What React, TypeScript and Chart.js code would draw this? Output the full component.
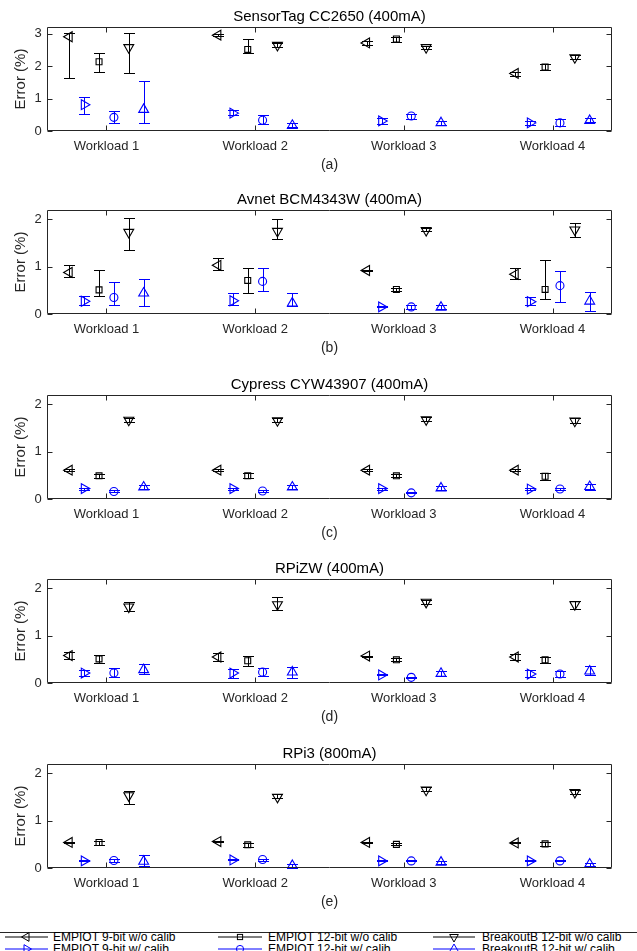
import React, { useEffect, useRef } from "react";
import { Chart, registerables } from "chart.js";

Chart.register(...registerables);

// ---------- data ----------
const workloadLabels = ["Workload 1", "Workload 2", "Workload 3", "Workload 4"];
const workloadPositions = [1, 2, 3, 4];

const seriesNames = [
  "EMPIOT 9-bit w/o calib",
  "EMPIOT 9-bit w/ calib",
  "EMPIOT 12-bit w/o calib",
  "EMPIOT 12-bit w/ calib",
  "BreakoutB 12-bit w/o calib",
  "BreakoutB 12-bit w/ calib",
];
const seriesOffsets = [-0.25, -0.15, -0.05, 0.05, 0.15, 0.25];

const panelTitles = [
  "SensorTag CC2650 (400mA)",
  "Avnet BCM4343W (400mA)",
  "Cypress CYW43907 (400mA)",
  "RPiZW (400mA)",
  "RPi3 (800mA)",
];
const panelLetters = ["(a)", "(b)", "(c)", "(d)", "(e)"];
const panelYMax = [3.2, 2.2, 2.2, 2.2, 2.2];
const panelYTicks = [[0, 1, 2, 3], [0, 1, 2], [0, 1, 2], [0, 1, 2], [0, 1, 2]];

// rows = series (in legend order), columns = workloads 1..4
const sensorTagMean = [
  [2.9, 2.95, 2.71, 1.77],
  [0.81, 0.55, 0.31, 0.25],
  [2.13, 2.51, 2.83, 1.97],
  [0.42, 0.33, 0.46, 0.25],
  [2.57, 2.64, 2.57, 2.26],
  [0.66, 0.17, 0.25, 0.32],
];
const sensorTagLow = [
  [1.63, 2.91, 2.66, 1.68],
  [0.52, 0.48, 0.22, 0.18],
  [1.82, 2.4, 2.74, 1.88],
  [0.25, 0.21, 0.36, 0.16],
  [1.77, 2.6, 2.53, 2.22],
  [0.25, 0.11, 0.18, 0.27],
];
const sensorTagHigh = [
  [3.03, 2.99, 2.77, 1.83],
  [1.06, 0.64, 0.4, 0.32],
  [2.4, 2.83, 2.9, 2.06],
  [0.61, 0.48, 0.52, 0.36],
  [3.01, 2.71, 2.62, 2.33],
  [1.54, 0.25, 0.31, 0.39],
];

const avnetMean = [
  [0.88, 1.03, 0.92, 0.84],
  [0.27, 0.28, 0.15, 0.26],
  [0.51, 0.71, 0.52, 0.52],
  [0.35, 0.69, 0.15, 0.6],
  [1.73, 1.75, 1.77, 1.78],
  [0.44, 0.23, 0.14, 0.27],
];
const avnetLow = [
  [0.79, 0.94, 0.9, 0.74],
  [0.18, 0.19, 0.14, 0.19],
  [0.38, 0.44, 0.48, 0.31],
  [0.2, 0.49, 0.11, 0.26],
  [1.35, 1.59, 1.75, 1.63],
  [0.16, 0.16, 0.11, 0.07],
];
const avnetHigh = [
  [1.03, 1.18, 0.94, 0.97],
  [0.38, 0.44, 0.16, 0.35],
  [0.93, 0.97, 0.55, 1.14],
  [0.68, 0.98, 0.2, 0.9],
  [2.04, 2.02, 1.81, 1.93],
  [0.73, 0.44, 0.18, 0.46],
];

const cypressMean = [
  [0.61, 0.61, 0.61, 0.61],
  [0.22, 0.22, 0.22, 0.21],
  [0.49, 0.49, 0.49, 0.48],
  [0.16, 0.17, 0.13, 0.21],
  [1.67, 1.66, 1.68, 1.65],
  [0.25, 0.25, 0.23, 0.26],
];
const cypressLow = [
  [0.59, 0.59, 0.59, 0.59],
  [0.2, 0.2, 0.2, 0.2],
  [0.45, 0.44, 0.46, 0.4],
  [0.14, 0.15, 0.12, 0.19],
  [1.62, 1.62, 1.64, 1.6],
  [0.21, 0.21, 0.19, 0.2],
];
const cypressHigh = [
  [0.63, 0.63, 0.63, 0.63],
  [0.24, 0.24, 0.24, 0.23],
  [0.53, 0.54, 0.52, 0.55],
  [0.18, 0.19, 0.14, 0.24],
  [1.71, 1.71, 1.73, 1.71],
  [0.29, 0.29, 0.27, 0.32],
];

const rpizwMean = [
  [0.58, 0.55, 0.57, 0.55],
  [0.21, 0.21, 0.17, 0.19],
  [0.51, 0.47, 0.49, 0.49],
  [0.21, 0.23, 0.12, 0.19],
  [1.61, 1.66, 1.71, 1.66],
  [0.28, 0.23, 0.2, 0.25],
];
const rpizwLow = [
  [0.51, 0.46, 0.56, 0.48],
  [0.14, 0.11, 0.16, 0.12],
  [0.42, 0.37, 0.46, 0.42],
  [0.12, 0.14, 0.11, 0.12],
  [1.53, 1.55, 1.68, 1.57],
  [0.19, 0.11, 0.15, 0.16],
];
const rpizwHigh = [
  [0.66, 0.64, 0.58, 0.62],
  [0.28, 0.3, 0.18, 0.27],
  [0.6, 0.57, 0.52, 0.56],
  [0.32, 0.32, 0.13, 0.26],
  [1.72, 1.81, 1.75, 1.73],
  [0.4, 0.34, 0.25, 0.35],
];

const rpi3Mean = [
  [0.54, 0.56, 0.54, 0.53],
  [0.15, 0.17, 0.15, 0.15],
  [0.54, 0.49, 0.5, 0.51],
  [0.16, 0.18, 0.15, 0.15],
  [1.53, 1.5, 1.65, 1.6],
  [0.14, 0.05, 0.12, 0.08],
];
const rpi3Low = [
  [0.53, 0.55, 0.53, 0.52],
  [0.14, 0.16, 0.14, 0.14],
  [0.49, 0.44, 0.48, 0.47],
  [0.12, 0.15, 0.14, 0.14],
  [1.36, 1.48, 1.63, 1.56],
  [0.04, 0.01, 0.09, 0.05],
];
const rpi3High = [
  [0.55, 0.57, 0.55, 0.54],
  [0.16, 0.18, 0.16, 0.16],
  [0.58, 0.53, 0.52, 0.54],
  [0.19, 0.2, 0.16, 0.16],
  [1.62, 1.56, 1.71, 1.65],
  [0.28, 0.09, 0.14, 0.11],
];

const panelMeans = [sensorTagMean, avnetMean, cypressMean, rpizwMean, rpi3Mean];
const panelLows = [sensorTagLow, avnetLow, cypressLow, rpizwLow, rpi3Low];
const panelHighs = [sensorTagHigh, avnetHigh, cypressHigh, rpizwHigh, rpi3High];

// ---------- styles ----------
const FONT = "'Liberation Sans', Arial, Helvetica, sans-serif";
const BLACK = "#000000";
const BLUE = "#0000ff";
const AXIS = "#262626";
const seriesColors = [BLACK, BLUE, BLACK, BLUE, BLACK, BLUE];
const seriesPointStyles = ["triangle", "triangle", "rect", "circle", "triangle", "triangle"];
const seriesRotations = [-90, 90, 0, 0, 180, 0];
const seriesRadius = [5.7, 5.7, 4.2, 4, 5.7, 5.7];

const W = 637;
const PLOT_RIGHT = 612;
const PLOT_LEFT = 47;
const PLOT_H = 104;
const TOP_SPACE = 26;
const BOTTOM_SPACE = 46;
const panelPlotTops = [27, 210, 395, 579, 764];

const errorBarPlugin = {
  id: "errorBars",
  afterDatasetsDraw(chart: any) {
    const ctx = chart.ctx;
    const xs = chart.scales.x;
    const ys = chart.scales.y;
    chart.data.datasets.forEach((ds: any) => {
      ctx.save();
      ctx.strokeStyle = ds.pointBorderColor;
      ctx.lineWidth = 1;
      ds.data.forEach((p: any, k: number) => {
        const xi = Math.round(xs.getPixelForValue(p.x));
        const x = xi + 0.5;
        const yl = Math.round(ys.getPixelForValue(ds.errLow[k])) + 0.5;
        const yh = Math.round(ys.getPixelForValue(ds.errHigh[k])) + 0.5;
        ctx.beginPath();
        ctx.moveTo(x, yl);
        ctx.lineTo(x, yh);
        ctx.moveTo(xi - 5, yl);
        ctx.lineTo(xi + 6, yl);
        ctx.moveTo(xi - 5, yh);
        ctx.lineTo(xi + 6, yh);
        ctx.stroke();
      });
      ctx.restore();
    });
  },
};

const framePlugin = {
  id: "matlabFrame",
  afterDraw(chart: any) {
    const ctx = chart.ctx;
    const a = chart.chartArea;
    const l = Math.round(a.left) + 0.5;
    const r = Math.round(a.right) - 0.5;
    const t = Math.round(a.top) + 0.5;
    const b = Math.round(a.bottom) - 0.5;
    ctx.save();
    ctx.strokeStyle = AXIS;
    ctx.lineWidth = 1;
    ctx.beginPath();
    ctx.rect(l, t, r - l, b - t);
    const tl = 5;
    chart.scales.y.ticks.forEach((tk: any) => {
      const y = Math.round(chart.scales.y.getPixelForValue(tk.value)) + 0.5;
      ctx.moveTo(l, y);
      ctx.lineTo(l + tl, y);
      ctx.moveTo(r, y);
      ctx.lineTo(r - tl, y);
    });
    chart.scales.x.ticks.forEach((tk: any) => {
      const x = Math.round(chart.scales.x.getPixelForValue(tk.value)) + 0.5;
      ctx.moveTo(x, b);
      ctx.lineTo(x, b - tl);
      ctx.moveTo(x, t);
      ctx.lineTo(x, t + tl);
    });
    ctx.stroke();
    ctx.restore();
  },
};

function Panel({ index }: { index: number }) {
  const ref = useRef<HTMLCanvasElement | null>(null);
  useEffect(() => {
    if (!ref.current) return;
    const means = panelMeans[index];
    const lows = panelLows[index];
    const highs = panelHighs[index];
    const datasets = seriesNames.map((name, s) => ({
      label: name,
      data: workloadPositions.map((w, k) => ({ x: w + seriesOffsets[s], y: means[s][k] })),
      errLow: lows[s],
      errHigh: highs[s],
      showLine: false,
      pointStyle: seriesPointStyles[s],
      pointRotation: seriesRotations[s],
      pointRadius: seriesRadius[s],
      pointHoverRadius: seriesRadius[s],
      pointBorderWidth: 1.1,
      pointBorderColor: seriesColors[s],
      pointBackgroundColor: "rgba(0,0,0,0)",
      borderColor: seriesColors[s],
      backgroundColor: "rgba(0,0,0,0)",
    }));
    const yTicks = panelYTicks[index];
    const chart = new Chart(ref.current, {
      type: "scatter",
      data: { datasets } as any,
      plugins: [errorBarPlugin, framePlugin],
      options: {
        animation: false,
        responsive: false,
        maintainAspectRatio: false,
        devicePixelRatio: 1,
        events: [],
        layout: { padding: { left: 0, right: W - PLOT_RIGHT, top: 0, bottom: 0 } },
        plugins: {
          legend: { display: false },
          tooltip: { enabled: false },
          title: {
            display: true,
            fullSize: false,
            text: panelTitles[index],
            color: "#000",
            font: { family: FONT, size: 15, weight: "normal", lineHeight: 1.2 },
            padding: { top: 7, bottom: TOP_SPACE - 7 - 18 },
          },
        },
        scales: {
          x: {
            type: "linear",
            min: 0.6,
            max: 4.4,
            afterBuildTicks: (scale: any) => {
              scale.ticks = workloadPositions.map((v) => ({ value: v }));
            },
            afterFit: (scale: any) => {
              scale.height = BOTTOM_SPACE;
            },
            ticks: {
              autoSkip: false,
              maxRotation: 0,
              padding: 7.2,
              color: AXIS,
              font: { family: FONT, size: 13, lineHeight: 1.2 },
              callback: (v: any) => workloadLabels[workloadPositions.indexOf(Number(v))] ?? "",
            },
            grid: { display: false, drawTicks: false },
            border: { display: false },
            title: {
              display: true,
              text: panelLetters[index],
              color: AXIS,
              font: { family: FONT, size: 14, lineHeight: 1.2 },
              padding: { top: 0, bottom: 46 - 34.3 - 8.4 },
            },
          },
          y: {
            type: "linear",
            min: 0,
            max: panelYMax[index],
            afterBuildTicks: (scale: any) => {
              scale.ticks = yTicks.map((v) => ({ value: v }));
            },
            afterFit: (scale: any) => {
              scale.width = PLOT_LEFT;
            },
            ticks: {
              padding: 5.3,
              color: AXIS,
              font: { family: FONT, size: 13, lineHeight: 1.2 },
              callback: (v: any) => String(v),
            },
            grid: { display: false, drawTicks: false },
            border: { display: false },
            title: {
              display: true,
              text: "Error (%)",
              color: AXIS,
              font: { family: FONT, size: 15, lineHeight: 1.2 },
              padding: { top: 11.7, bottom: 0 },
            },
          },
        },
      } as any,
    });
    return () => chart.destroy();
  }, [index]);
  const top = panelPlotTops[index] - TOP_SPACE;
  const h = TOP_SPACE + PLOT_H + BOTTOM_SPACE;
  return (
    <canvas
      ref={ref}
      width={W}
      height={h}
      style={{ position: "absolute", left: 0, top, width: W, height: h }}
    />
  );
}

const legendLineStart = [5, 218, 433];
const legendLineEnd = [48, 262, 475];
const legendTextLeft = [53, 268, 482];
const legendRowY = [936.5, 948.5];

function LegendMarker({ s, cx, cy }: { s: number; cx: number; cy: number }) {
  const c = seriesColors[s];
  const r = 5;
  if (seriesPointStyles[s] === "circle") {
    return <circle cx={cx} cy={cy} r={3.6} fill="none" stroke={c} strokeWidth={1} />;
  }
  if (seriesPointStyles[s] === "rect") {
    return <rect x={cx - 2.6} y={cy - 2.6} width={5.2} height={5.2} fill="none" stroke={c} strokeWidth={1} />;
  }
  const rot = (seriesRotations[s] * Math.PI) / 180;
  const pts: string[] = [];
  for (let i = 0; i < 3; i++) {
    const a = rot + (i * 2 * Math.PI) / 3;
    pts.push(`${cx + Math.sin(a) * r},${cy - Math.cos(a) * r}`);
  }
  return <polygon points={pts.join(" ")} fill="none" stroke={c} strokeWidth={1} />;
}

function Legend() {
  return (
    <div
      style={{
        position: "absolute",
        left: 0,
        top: 932,
        width: W,
        height: 30,
        borderTop: `1px solid ${AXIS}`,
        boxSizing: "border-box",
      }}
    >
      <svg width={W} height={30} style={{ position: "absolute", left: 0, top: -1 }}>
        {seriesNames.map((_, s) => {
          const col = Math.floor(s / 2);
          const row = s % 2;
          const y = legendRowY[row] - 932 + 0.5;
          const x0 = legendLineStart[col];
          const x1 = legendLineEnd[col];
          return (
            <g key={s}>
              <line x1={x0} y1={y} x2={x1} y2={y} stroke={seriesColors[s]} strokeWidth={1} />
              <LegendMarker s={s} cx={(x0 + x1) / 2} cy={y} />
            </g>
          );
        })}
      </svg>
      {seriesNames.map((name, s) => {
        const col = Math.floor(s / 2);
        const row = s % 2;
        return (
          <span
            key={s}
            style={{
              position: "absolute",
              left: legendTextLeft[col],
              top: legendRowY[row] - 932 - 1 - 7,
              fontFamily: FONT,
              fontSize: 12,
              lineHeight: "14px",
              color: "#000",
              whiteSpace: "nowrap",
            }}
          >
            {name}
          </span>
        );
      })}
    </div>
  );
}

export default function App() {
  return (
    <div
      style={{
        position: "absolute",
        left: 0,
        top: 0,
        width: W,
        height: 951,
        overflow: "hidden",
        background: "#fff",
      }}
    >
      {panelTitles.map((_, i) => (
        <Panel key={i} index={i} />
      ))}
      <Legend />
    </div>
  );
}
